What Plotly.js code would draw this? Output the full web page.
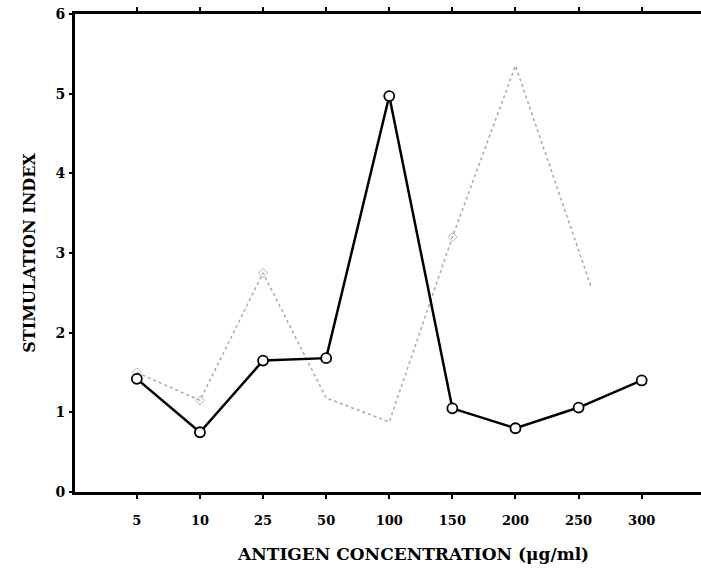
<!DOCTYPE html>
<html><head><meta charset="utf-8">
<script src="https://cdn.plot.ly/plotly-3.0.1.min.js"></script>
<style>html,body{margin:0;padding:0;background:#fff}#c{width:701px;height:578px}</style>
</head><body><div id="c"></div>
<script>
const categories = ["5","10","25","50","100","150","200","250","300"];
const catPos = [0,1,2,3,4,5,6,7,8];
const seriesA = [1.42,0.75,1.65,1.68,4.97,1.05,0.80,1.06,1.40];
const seriesBPos = [0,1,2,3,4,5,6,7.2];
const seriesB = [1.50,1.15,2.75,1.18,0.88,3.20,5.35,2.57];
const seriesBMarkerSize = [7,7,7,0,0,7,0,0];
const yTicks = [0,1,2,3,4,5,6];
const fontF = "DejaVu Serif, Liberation Serif, serif";
const xRange = [-0.98, 8.94];
const yRange = [0, 6];

const traces = [
  {x: seriesBPos, y: seriesB, mode:'lines+markers', line:{color:'#a8a8a8', width:1.5, dash:'dot'},
   marker:{symbol:'diamond-open', size:seriesBMarkerSize, color:'#999', line:{width:1}}, hoverinfo:'none'},
  {x: catPos, y: seriesA, mode:'lines+markers', line:{color:'#000', width:2.5},
   marker:{symbol:'circle', size:10, color:'#fff', line:{color:'#000', width:1.8}}, hoverinfo:'none'}
];
const layout = {
  width:701, height:578, margin:{l:75, r:0, t:14, b:86},
  paper_bgcolor:'#fff', plot_bgcolor:'#fff', showlegend:false,
  font:{family:fontF, color:'#000'},
  xaxis:{range:xRange, tickmode:'array', tickvals:catPos, ticktext:categories,
    showgrid:false, zeroline:false, showline:true, linecolor:'black', linewidth:3, mirror:'ticks',
    ticks:'outside', ticklen:4, tickwidth:2, tickcolor:'black',
    tickfont:{size:13, family:fontF, weight:'bold'}, ticklabelstandoff:10},
  yaxis:{range:yRange, tickmode:'array', tickvals:yTicks, ticktext:yTicks.map(String),
    showgrid:false, zeroline:false, showline:true, linecolor:'black', linewidth:3,
    ticks:'outside', ticklen:3, tickwidth:2, tickcolor:'black',
    tickfont:{size:14, family:fontF, weight:'bold'}, ticklabelstandoff:1,
    title:{text:'STIMULATION INDEX', font:{size:16, family:fontF, weight:'bold'}, standoff:16}},
  annotations:[{text:'ANTIGEN CONCENTRATION (μg/ml)', xref:'paper', yref:'paper', x:0.54, y:-0.13,
    xanchor:'center', yanchor:'middle', showarrow:false, font:{size:17, family:fontF, weight:'bold', color:'#000'}}]
};
Plotly.newPlot('c', traces, layout, {staticPlot:true, displayModeBar:false});
</script></body></html>
